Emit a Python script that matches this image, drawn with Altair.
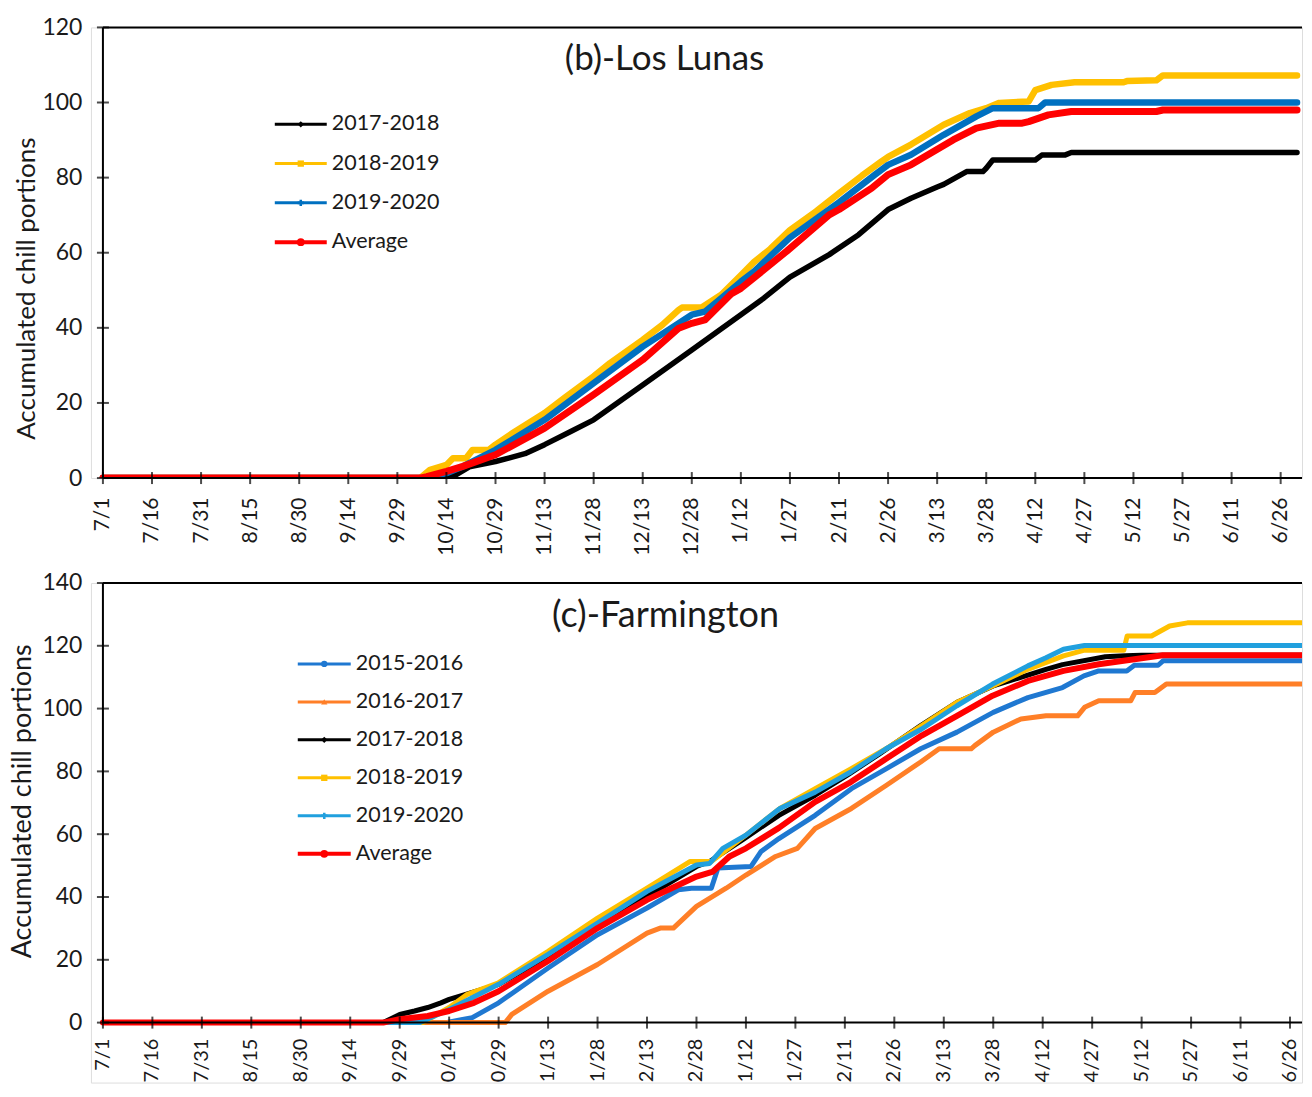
import json
import altair as alt
import pandas as pd

# ---------------- tick labels ----------------
TICK_DAYS = list(range(0, 361, 15))
TICK_LABELS = ["7/1", "7/16", "7/31", "8/15", "8/30", "9/14", "9/29", "10/14", "10/29",
               "11/13", "11/28", "12/13", "12/28", "1/12", "1/27", "2/11", "2/26", "3/13",
               "3/28", "4/12", "4/27", "5/12", "5/27", "6/11", "6/26"]

# ---------------- (b) Los Lunas ----------------
LL_SERIES = ["2017-2018", "2018-2019", "2019-2020", "Average"]
LL_COLORS = ["#000000", "#ffc000", "#0070c0", "#ff0000"]
LL_SHAPES = ["diamond", "square", "cross", "circle"]

LL_1718_DAY = [0, 105, 108, 112, 120, 124, 129, 135, 143, 150, 165, 180, 195, 202, 210, 222,
               231, 240, 247, 255, 257, 264, 269, 270, 272, 285, 287, 294, 296, 365]
LL_1718_VAL = [0, 0, 0.9, 3.0, 4.4, 5.3, 6.5, 8.9, 12.4, 15.5, 24.8, 34.1, 43.5, 47.9, 53.5, 59.5,
               64.8, 71.5, 74.5, 77.5, 78.2, 81.6, 81.6, 82.5, 84.7, 84.7, 86.0, 86.0, 86.7, 86.7]

LL_1819_DAY = [0, 97, 100, 105, 107, 111, 113, 118, 120, 126, 135, 141, 150, 155, 165, 171, 176,
               177, 183, 189, 195, 199, 204, 210, 218, 225, 232, 238, 240, 247, 257, 265, 270,
               274, 283, 285, 290, 297, 312, 313, 322, 324, 365]
LL_1819_VAL = [0, 0, 2.2, 3.5, 5.3, 5.3, 7.5, 7.5, 8.9, 12.4, 17.3, 21.3, 27.1, 30.6, 36.8, 40.8,
               44.8, 45.4, 45.4, 48.8, 54.0, 57.5, 61.0, 66.0, 71.0, 75.8, 80.5, 84.3, 85.5, 88.8,
               94.1, 97.2, 98.5, 99.9, 100.3, 103.3, 104.7, 105.4, 105.4, 105.7, 105.9, 107.2, 107.2]

LL_1920_DAY = [0, 98, 105, 110, 120, 135, 150, 165, 180, 184, 189, 195, 199, 210, 225, 236, 240,
               247, 257, 267, 272, 286, 288, 365]
LL_1920_VAL = [0, 0, 1.3, 3.1, 7.5, 15.5, 25.3, 35.0, 43.5, 44.3, 47.9, 52.3, 55.0, 64.0, 73.4,
               80.8, 83.4, 86.1, 91.4, 96.3, 98.5, 98.5, 100.0, 100.0]

LL_AVG_DAY = [0, 97, 99, 105, 110, 120, 135, 150, 165, 176, 180, 184, 192, 195, 209, 222, 225,
              235, 240, 247, 260, 267, 274, 281, 283, 289, 296, 322, 324, 365]
LL_AVG_VAL = [0, 0, 0.4, 1.8, 3.1, 6.2, 13.3, 22.2, 31.5, 39.9, 41.2, 42.1, 49.0, 50.5, 60.4, 70.1,
              71.5, 77.2, 80.8, 83.4, 90.1, 93.2, 94.5, 94.5, 94.9, 96.7, 97.6, 97.6, 98.0, 98.0]

# ---------------- (c) Farmington ----------------
FM_SERIES = ["2015-2016", "2016-2017", "2017-2018", "2018-2019", "2019-2020", "Average"]
FM_COLORS = ["#1f78d1", "#ff7f27", "#000000", "#ffc000", "#21a0de", "#ff0000"]
FM_SHAPES = ["circle", "triangle-up", "diamond", "square", "cross", "circle"]

FM_1516_DAY = [0, 104, 112, 120, 135, 150, 165, 174.5, 178.5, 184.5, 186.5, 196.5, 199.5, 205, 216,
               227, 237.5, 248, 259, 270, 280.5, 291, 297.5, 302, 310.5, 312.8, 320, 321.5, 366]
FM_1516_VAL = [0, 0, 1.6, 6.3, 17.4, 28.0, 36.5, 42.3, 42.8, 42.8, 49.2, 49.7, 54.4, 58.6, 66.0,
               74.5, 80.8, 87.2, 92.5, 98.8, 103.5, 106.7, 110.4, 112.0, 112.0, 113.8, 113.8, 115.2, 115.2]

FM_1617_DAY = [0, 122, 124, 135, 150, 165, 169, 173, 180, 189, 195, 204, 210.6, 216, 227, 237.5,
               248, 253.6, 263.3, 264.4, 270, 278.4, 286, 295.6, 297.7, 302, 311.7, 313, 319, 322.5, 366]
FM_1617_VAL = [0, 0, 2.6, 10.0, 18.5, 28.5, 30.1, 30.1, 37.0, 42.8, 47.0, 52.9, 55.5, 61.8, 68.2,
               75.5, 83.0, 87.2, 87.2, 88.2, 92.5, 96.7, 97.7, 97.7, 100.4, 102.5, 102.5, 105.1, 105.1,
               107.8, 107.8]

FM_1718_DAY = [0, 85, 90, 94.5, 98.5, 102.5, 105, 120, 135, 150, 165, 180, 184, 194.5, 205, 216,
               226, 235.4, 248, 259, 270, 286, 291, 304, 310, 315, 366]
FM_1718_VAL = [0, 0, 2.6, 3.7, 4.8, 6.3, 7.4, 12.2, 21.0, 31.2, 40.2, 49.7, 51.3, 58.6, 66.0, 72.4,
               79.0, 85.5, 94.6, 102.0, 107.2, 112.5, 114.0, 116.5, 116.8, 117.0, 117.0]

FM_1819_DAY = [0, 97, 105, 110.5, 120, 135, 150, 165, 178, 184.5, 195, 205.3, 216, 226.8, 237.5,
               248.3, 259, 269.8, 280.5, 291.3, 297.7, 309.6, 310.6, 318, 323.5, 328.9, 366]
FM_1819_VAL = [0, 0, 4.8, 9.0, 12.7, 22.7, 33.3, 42.8, 51.3, 51.3, 59.7, 68.2, 74.5, 80.8, 87.2,
               94.6, 102.0, 107.2, 112.5, 116.8, 118.6, 118.6, 123.1, 123.1, 126.3, 127.3, 127.3]

FM_1920_DAY = [0, 96, 105, 120, 135, 150, 165, 180, 184, 188, 195, 205.3, 216, 226.8, 237.5,
               248.3, 259, 269.8, 280.5, 286, 291.3, 297.7, 366]
FM_1920_VAL = [0, 0, 4.2, 12.2, 21.7, 31.7, 41.8, 50.2, 50.7, 55.5, 59.7, 68.2, 73.4, 79.8, 87.2,
               93.5, 100.9, 107.8, 113.6, 116.2, 118.9, 120.1, 120.1]

FM_AVG_DAY = [0, 85, 90, 98.5, 105, 112.5, 120, 135, 150, 165, 180, 185, 190, 195, 205, 216, 226.8,
              237.5, 248.3, 259, 269.8, 280.5, 291.3, 302, 312.8, 321.4, 366]
FM_AVG_VAL = [0, 0, 1.1, 2.1, 3.7, 6.3, 10.0, 19.6, 30.1, 39.1, 46.5, 48.1, 52.9, 55.5, 62.0, 70.3,
              76.6, 84.0, 91.4, 97.7, 104.1, 108.8, 112.0, 114.1, 115.7, 117.0, 117.0]

FONT = "Lato"
TXT = "#1a1a1a"
LABEL_EXPR = f"{json.dumps(TICK_LABELS)}[indexof({json.dumps(TICK_DAYS)}, datum.value)]"
LPAD = 12  # blank strip left of day 0 so that the first tick label is not clipped


def panel(series, colors, shapes, days, vals, widths, ymin, ymax, xmin, xmax, W, H, title,
          title_size, title_x, title_y, leg_x0, leg_x1, leg_y0, leg_dy, xlab_size, ytitle_size,
          ytitle_y, ytitle_pad, axis_labels):
    xs = alt.Scale(domain=[xmin, xmax], nice=False, zero=False)
    ys = alt.Scale(domain=[ymin, ymax], nice=False, zero=False)
    yvals = list(range(0, ymax + 1, 20))
    if axis_labels:
        xaxis = alt.Axis(values=TICK_DAYS, labelExpr=LABEL_EXPR, labelAngle=-90,
                         labelFontSize=xlab_size, labelFont=FONT, labelColor=TXT, labelPadding=19,
                         labelFlush=False, labelOverlap=False, labelBound=False, ticks=False,
                         grid=False, domain=False, title=None)
    else:
        xaxis = None
    yaxis = alt.Axis(values=yvals, labelFontSize=23, labelFont=FONT,
                     labelColor=TXT, labelPadding=21 - LPAD, ticks=False, grid=False,
                     domain=False, title="Accumulated chill portions",
                     titleFont=FONT, titleFontSize=ytitle_size, titleFontWeight="normal",
                     titleColor=TXT, titlePadding=ytitle_pad, titleY=ytitle_y)
    layers = []
    for i, (name, col) in enumerate(zip(series, colors)):
        df = pd.DataFrame({"day": days[i], "value": vals[i]})
        enc_x = alt.X("day:Q", scale=xs, axis=xaxis) if i == 0 else alt.X("day:Q", scale=xs)
        enc_y = alt.Y("value:Q", scale=ys, axis=yaxis) if i == 0 else alt.Y("value:Q", scale=ys)
        layers.append(
            alt.Chart(df).mark_line(clip=True, strokeWidth=widths[i], color=col,
                                    strokeJoin="round", strokeCap="round")
            .encode(x=enc_x, y=enc_y)
        )
    one_row = pd.DataFrame({"a": [0]})
    # axis lines (y from 0 to max at day 0, x along zero)
    layers.append(alt.Chart(one_row).mark_rule(color="black", strokeWidth=2)
                  .encode(x=alt.datum(0), y=alt.datum(0), y2=alt.datum(ymax)))
    layers.append(alt.Chart(one_row).mark_rule(color="black", strokeWidth=2)
                  .encode(y=alt.datum(0), x=alt.datum(0), x2=alt.value(W)))
    # top frame line
    layers.append(alt.Chart(one_row).mark_rule(color="black", strokeWidth=2)
                  .encode(y=alt.datum(ymax), x=alt.datum(0), x2=alt.value(W)))
    # cross ticks on axes
    xt = pd.DataFrame({"day": TICK_DAYS, "lab": TICK_LABELS})
    layers.append(alt.Chart(xt).mark_tick(orient="vertical", size=12, thickness=2, color="black")
                  .encode(x=alt.X("day:Q", scale=xs), y=alt.datum(0)))
    yt = pd.DataFrame({"value": yvals})
    layers.append(alt.Chart(yt).mark_tick(orient="horizontal", size=12, thickness=2, color="black")
                  .encode(y=alt.Y("value:Q", scale=ys), x=alt.datum(0)))
    if not axis_labels:
        # tick labels drawn inside an extended, clipped plot area (cut at the page bottom)
        layers.append(alt.Chart(xt).mark_text(clip=True, angle=270, align="right",
                                              baseline="middle", font=FONT, fontSize=xlab_size,
                                              color=TXT)
                      .encode(x=alt.X("day:Q", scale=xs), y=alt.datum(0),
                              yOffset=alt.value(16), text="lab:N"))
    # panel title
    layers.append(alt.Chart(pd.DataFrame({"t": [title]})).mark_text(
        font=FONT, fontSize=title_size, color=TXT, align="center", baseline="middle")
        .encode(text="t:N", x=alt.value(title_x + LPAD), y=alt.value(title_y)))
    # legend
    for i, (name, col, shp) in enumerate(zip(series, colors, shapes)):
        yy = leg_y0 + i * leg_dy
        one = pd.DataFrame({"s": [name]})
        sw = 4 if name == "Average" else 3
        x0, x1 = leg_x0 + LPAD, leg_x1 + LPAD
        layers.append(alt.Chart(one).mark_rule(color=col, strokeWidth=sw)
                      .encode(x=alt.value(x0), x2=alt.value(x1), y=alt.value(yy)))
        layers.append(alt.Chart(one).mark_point(shape=shp, filled=True, color=col, opacity=1,
                                                size=60 if name == "Average" else 40)
                      .encode(x=alt.value((x0 + x1) / 2), y=alt.value(yy)))
        layers.append(alt.Chart(one).mark_text(font=FONT, fontSize=21.5, color=TXT, align="left",
                                               baseline="middle")
                      .encode(text="s:N", x=alt.value(x1 + 5), y=alt.value(yy)))
    return alt.layer(*layers).properties(width=W, height=H)


W = 1200 + LPAD
TOP_PX_PER_DAY = 3.274
BOT_PX_PER_DAY = 3.3

top = panel(LL_SERIES, LL_COLORS, LL_SHAPES,
            [LL_1718_DAY, LL_1819_DAY, LL_1920_DAY, LL_AVG_DAY],
            [LL_1718_VAL, LL_1819_VAL, LL_1920_VAL, LL_AVG_VAL],
            [5.5, 6.5, 6.5, 7], 0, 120,
            -LPAD / TOP_PX_PER_DAY, 1200 / TOP_PX_PER_DAY, W, 451,
            "(b)-Los Lunas", 35, 562, 32, 172, 224, 97, 39.3, 21, 26, 261, 2, True)

# bottom: plot area extends below the zero line so that the tick labels are clipped
bottom = panel(FM_SERIES, FM_COLORS, FM_SHAPES,
               [FM_1516_DAY, FM_1617_DAY, FM_1718_DAY, FM_1819_DAY, FM_1920_DAY, FM_AVG_DAY],
               [FM_1516_VAL, FM_1617_VAL, FM_1718_VAL, FM_1819_VAL, FM_1920_VAL, FM_AVG_VAL],
               [5, 5, 5, 5, 5, 6], -19.1, 140,
               -LPAD / BOT_PX_PER_DAY, 1200 / BOT_PX_PER_DAY, W, 500,
               "(c)-Farmington", 36, 563, 33, 195, 248, 81, 38, 20, 27, 218, 5, False)

chart = alt.vconcat(top, bottom, spacing=15).properties(
    padding={"left": 0, "top": 7, "right": 0, "bottom": 0}
).configure_view(stroke=None).configure(font=FONT)

chart.save("out.html", embed_options={"renderer": "svg", "actions": False})
